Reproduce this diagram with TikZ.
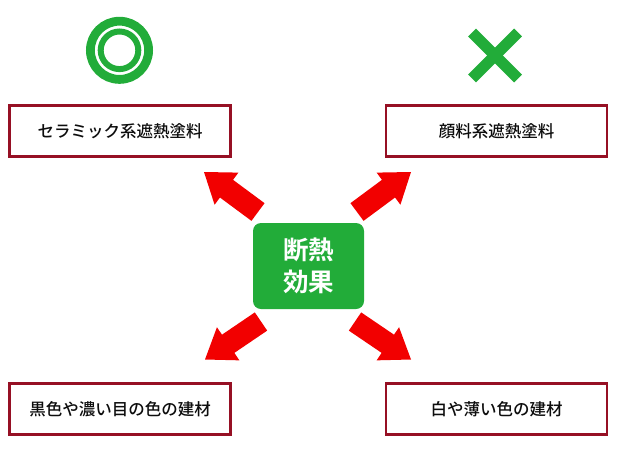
\documentclass[tikz,border=0pt]{standalone}
\usepackage{fontspec}
\newfontfamily\jpfont{Noto Sans CJK JP Medium}
\newfontfamily\jpbold{Noto Sans CJK JP Bold}
\usetikzlibrary{calc}
\definecolor{okgreen}{RGB}{34,172,57}
\definecolor{boxred}{RGB}{150,16,36}
\definecolor{arrred}{RGB}{242,0,0}
\tikzset{
  labelbox/.style={draw=boxred, line width=2.6pt, minimum width=221pt, minimum height=51pt,
    inner sep=0pt, font=\jpfont\fontsize{16.5pt}{20pt}\selectfont, text=black!95},
  centerbox/.style={fill=okgreen, rounded corners=8pt, minimum width=111pt, minimum height=86pt,
    inner sep=0pt, text=white, align=center, font=\jpbold\fontsize{25.5pt}{32pt}\selectfont},
  markline/.style={draw=okgreen},
  blockarrow/.style={fill=arrred, draw=none}
}
\newcommand\redblockarrow[3]{%
  \coordinate (#3b) at ($(#2)!28pt!(#1)$);
  \fill[blockarrow] ($(#1)!11pt!90:(#2)$) -- ($(#3b)!11pt!90:(#2)$) -- ($(#3b)!20pt!90:(#2)$)
    -- (#2) -- ($(#3b)!20pt!-90:(#2)$) -- ($(#3b)!11pt!-90:(#2)$) -- ($(#1)!11pt!-90:(#2)$) -- cycle;
}
\begin{document}
\begin{tikzpicture}[x=1pt,y=-1pt]
\useasboundingbox (0,0) rectangle (620,448);
% marks
\draw[markline, line width=8.8pt] (119.5,50.3) circle (29.1pt);
\draw[markline, line width=6pt] (119.5,50.3) circle (18.8pt);
\coordinate (xc) at (495,55.5);
\draw[markline, line width=11pt] ($(xc)+(-23,-23)$) -- ($(xc)+(23,23)$);
\draw[markline, line width=11pt] ($(xc)+(-23,23)$) -- ($(xc)+(23,-23)$);
% boxes
\node[labelbox] (ceramic) at (120,131) {セラミック系遮熱塗料};
\node[labelbox] (pigment) at (496.5,131) {顔料系遮熱塗料};
\node[labelbox] (dark) at (120,409) {黒色や濃い目の色の建材};
\node[labelbox] (light) at (496.5,409) {白や薄い色の建材};
\node[centerbox] (center) at (308.5,266) {断熱\\効果};
% arrows
\coordinate (tlT) at (258,212); \coordinate (tlP) at (204,172);
\coordinate (trT) at (357,212); \coordinate (trP) at (411,172);
\coordinate (blT) at (261,321.5); \coordinate (blP) at (205,359.5);
\coordinate (brT) at (355,321.5); \coordinate (brP) at (411,359.5);
\redblockarrow{tlT}{tlP}{tl}
\redblockarrow{trT}{trP}{tr}
\redblockarrow{blT}{blP}{bl}
\redblockarrow{brT}{brP}{br}
\end{tikzpicture}
\end{document}
